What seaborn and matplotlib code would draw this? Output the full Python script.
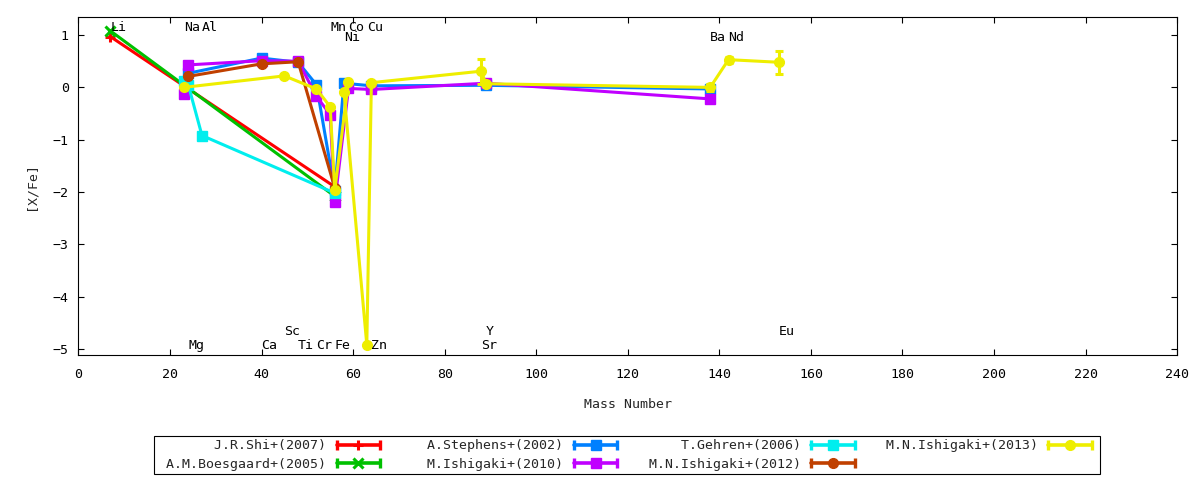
import numpy as np
import seaborn as sns
import matplotlib.pyplot as plt
from matplotlib.lines import Line2D
from matplotlib.legend_handler import HandlerLine2D

# mass numbers used for the x axis
elements = ['Li', 'Na', 'Mg', 'Al', 'Ca', 'Sc', 'Ti', 'Cr', 'Mn', 'Fe',
            'Co', 'Ni', 'Cu', 'Zn', 'Sr', 'Y', 'Ba', 'Nd', 'Eu']
mass_numbers = [7, 23, 24, 27, 40, 45, 48, 52, 55, 56,
                59, 58, 63, 64, 88, 89, 138, 142, 153]

# element labels drawn inside the plot
label_names = ['Li', 'Na', 'Al', 'Mn', 'Co', 'Cu',
               'Ni', 'Ba', 'Nd',
               'Sc', 'Y', 'Eu',
               'Mg', 'Ca', 'Ti', 'Cr', 'Fe', 'Zn', 'Sr']
label_y = [1.15, 1.15, 1.15, 1.15, 1.15, 1.15,
           0.96, 0.96, 0.96,
           -4.66, -4.66, -4.66,
           -4.93, -4.93, -4.93, -4.93, -4.93, -4.93, -4.93]

# [X/Fe] per reference
shi_el = ['Li', 'Fe']
shi_val = [0.97, -1.90]

boe_el = ['Li', 'Fe']
boe_val = [1.08, -2.08]

ste_el = ['Mg', 'Ca', 'Ti', 'Cr', 'Fe', 'Ni', 'Zn', 'Y', 'Ba']
ste_val = [0.27, 0.56, 0.48, 0.05, -1.98, 0.08, 0.03, 0.04, -0.03]

ish10_el = ['Na', 'Mg', 'Ca', 'Ti', 'Cr', 'Mn', 'Fe', 'Co', 'Zn', 'Y', 'Ba']
ish10_val = [-0.12, 0.43, 0.51, 0.50, -0.17, -0.52, -2.20, -0.02, -0.04, 0.08, -0.22]

geh_el = ['Na', 'Mg', 'Al', 'Fe']
geh_val = [0.13, 0.05, -0.92, -2.02]

ish12_el = ['Mg', 'Ca', 'Ti', 'Fe']
ish12_val = [0.21, 0.45, 0.49, -1.92]

ish13_el = ['Na', 'Sc', 'Cr', 'Mn', 'Fe', 'Co', 'Ni', 'Cu', 'Zn', 'Sr', 'Y', 'Ba', 'Nd', 'Eu']
ish13_val = [0.00, 0.22, -0.03, -0.37, -1.97, 0.11, -0.08, -4.92, 0.09, 0.31, 0.07, 0.00, 0.53, 0.48]
ish13_err = [0.03, 0.03, 0.0, 0.0, 0.0, 0.0, 0.0, 0.0, 0.0, 0.24, 0.0, 0.06, 0.06, 0.22]

series_names = ['J.R.Shi+(2007)', 'A.M.Boesgaard+(2005)', 'A.Stephens+(2002)',
                'M.Ishigaki+(2010)', 'T.Gehren+(2006)', 'M.N.Ishigaki+(2012)',
                'M.N.Ishigaki+(2013)']
series_el = [shi_el, boe_el, ste_el, ish10_el, geh_el, ish12_el, ish13_el]
series_val = [shi_val, boe_val, ste_val, ish10_val, geh_val, ish12_val, ish13_val]
series_err = [None, None, None, None, None, None, ish13_err]

colors = ['#ff0000', '#00c000', '#0080ff', '#c000ff', '#00eeee', '#c04000', '#eeee00']
markers = ['+', 'x', 's', 's', 's', 'o', 'o']
msizes = [7, 7, 6.8, 6.8, 6.8, 7, 7]

sns.set_style('ticks')
plt.rcParams['font.family'] = ['DejaVu Sans Mono']
plt.rcParams['font.size'] = 9.5

mass_of = dict(zip(elements, mass_numbers))

fig, ax = plt.subplots(figsize=(12, 4.8), dpi=100)
fig.subplots_adjust(left=0.0653, right=0.981, top=0.964, bottom=0.2604)

handles = []
hmap = {}
for name, el, val, err, c, m, ms in zip(series_names, series_el, series_val, series_err,
                                         colors, markers, msizes):
    xs = np.array([mass_of[e] for e in el], dtype=float)
    ys = np.array(val, dtype=float)
    if err is not None:
        e = np.array(err)
        keep = e > 0
        ax.errorbar(xs[keep], ys[keep], yerr=e[keep], fmt='none', ecolor=c,
                    elinewidth=2.2, capsize=3, capthick=2.2)
    sns.lineplot(x=xs, y=ys, ax=ax, color=c, marker=m, markersize=ms,
                 markeredgecolor=c, markeredgewidth=2.2 if m in '+x' else 1,
                 linewidth=2.2, sort=False, estimator=None, legend=False)

    cap = Line2D([], [], color=c, lw=2.6, marker='|', markersize=6.5, markeredgewidth=2.4)
    pt = Line2D([], [], color=c, ls='none', marker=m, markersize=ms,
                markeredgecolor=c, markeredgewidth=2.2 if m in '+x' else 1)
    hmap[cap] = HandlerLine2D(numpoints=2)
    hmap[pt] = HandlerLine2D(numpoints=1)
    handles.append((cap, pt))

for name, y in zip(label_names, label_y):
    ax.text(mass_of[name], y, name, ha='left', va='center', color='black')

ax.set_xlim(0, 240)
ax.set_ylim(-5.115, 1.34)
ax.set_xticks(np.arange(0, 241, 20))
ax.set_yticks(np.arange(-5, 2, 1))
ax.tick_params(direction='in', length=4.5, width=0.8, top=True, right=True,
               colors='black')
ax.tick_params(axis='x', pad=9)
ax.tick_params(axis='y', pad=7)
for s in ax.spines.values():
    s.set_color('black')
    s.set_linewidth(0.8)

ax.set_xlabel('Mass Number')
ax.set_ylabel('[X/Fe]')
ax.xaxis.set_label_coords(0.5, -0.128)
ax.yaxis.set_label_coords(-0.037, 0.5)

labels = [n.rjust(21) for n in series_names]
leg = fig.legend(handles, labels, handler_map=hmap, loc='center',
                 bbox_to_anchor=(627 / 1200, 1 - 455 / 480), ncol=4,
                 markerfirst=False, frameon=True, fancybox=False,
                 edgecolor='black', framealpha=1, handlelength=3.9,
                 handletextpad=0.5, columnspacing=0.85, labelspacing=0.38,
                 borderpad=0.3, borderaxespad=0)
leg.get_frame().set_linewidth(0.8)

fig.savefig('out.png', dpi=100)
